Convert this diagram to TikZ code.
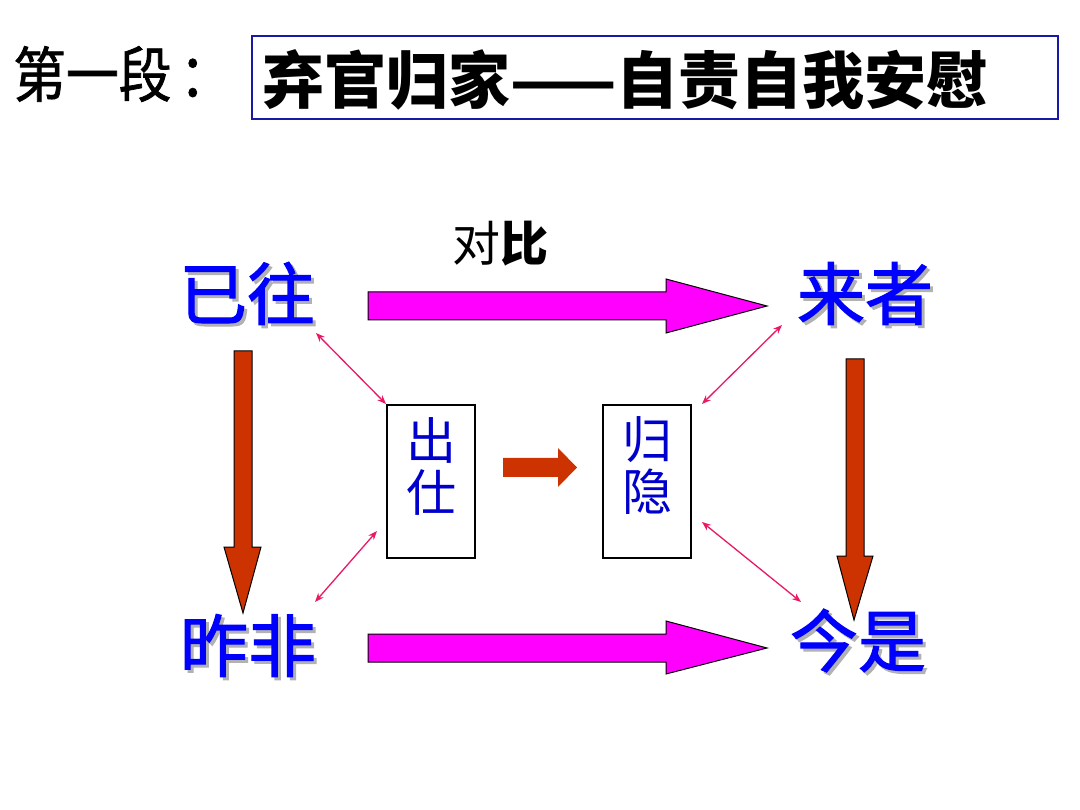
\documentclass[tikz,border=0pt]{standalone}
\usepackage{fontspec}
\newfontfamily\cjk{Noto Sans CJK SC}
\newfontfamily\cjkn[FakeStretch=0.88,FakeBold=1.2]{Noto Sans CJK SC}
\newfontfamily\cjkw{Noto Sans CJK SC}
\newfontfamily\cjkl[FakeBold=1.6]{Noto Sans CJK SC}
\usetikzlibrary{arrows.meta}
\definecolor{pinkline}{RGB}{233,25,100}
\definecolor{arrowbrown}{RGB}{204,51,0}
\definecolor{mag}{RGB}{255,0,255}
\definecolor{labelblue}{RGB}{0,0,255}
\definecolor{boxblue}{RGB}{0,0,204}
\definecolor{titleblue}{RGB}{25,25,165}
\newcommand\shadowed[1]{\makebox[0pt][l]{\hspace{3pt}\raisebox{-3pt}{\color{black!30}#1}}#1}
\tikzset{
  biglabel/.style={font=\cjkl\fontsize{68}{68}\selectfont, text=labelblue, inner sep=0pt},
  pinkarrow/.style={draw=pinkline, line width=1.3pt, {Stealth[length=9pt,width=7pt]}-{Stealth[length=9pt,width=7pt]}},
  magarrow/.style={draw=black, line width=1pt, fill=mag, line join=miter},
  brownarrow/.style={draw=black, line width=1pt, fill=arrowbrown, line join=miter},
  smallarrow/.style={fill=arrowbrown, draw=none},
  stagebox/.style={draw=black, line width=1.5pt, minimum width=88pt, minimum height=153pt, inner sep=0pt},
  stagetext/.style={font=\cjk\fontsize{50}{52}\selectfont, text=boxblue, align=center, inner sep=0pt},
}
\begin{document}
\begin{tikzpicture}[x=1pt,y=-1pt]
\useasboundingbox[fill=white] (0,0) rectangle (1080,810);

% title
\node[font=\cjkn\fontsize{60}{60}\selectfont, anchor=west, inner sep=0pt] (lead) at (13,74) {第一段\hspace{8pt}：};
\node[draw=titleblue, line width=2pt, minimum width=806pt, minimum height=83pt, inner sep=0pt] (titlebox) at (655,77.5) {};
\node[font=\cjkw\bfseries\fontsize{62}{62}\selectfont, anchor=west, inner sep=0pt] (titletext) at (262,80) {弃官归家——自责自我安慰};

% contrast label
\node[font=\cjk\fontsize{48}{48}\selectfont, inner sep=0pt] (duibi) at (500,244) {对\textbf{比}};

% big labels with shadows
\node[biglabel] (yiwang) at (247,295) {\shadowed{已往}};
\node[biglabel] (laizhe) at (865,295) {\shadowed{来者}};
\node[biglabel] (zuofei) at (248,647) {\shadowed{昨非}};
\node[biglabel] (jinshi) at (858,642) {\shadowed{今是}};

% middle boxes
\node[stagebox] (chushi) at (431,481.5) {};
\node[stagetext] (chushitext) at (431,466) {出\\仕};
\node[stagebox] (guiyin) at (647,481.5) {};
\node[stagetext] (guiyintext) at (647,466) {归\\隐};

% magenta arrows
\draw[magarrow] (368,292) -- (666,292) -- (666,279) -- (767,306) -- (666,333) -- (666,320) -- (368,320) -- cycle;
\draw[magarrow] (368,634) -- (666,634) -- (666,621) -- (767,648) -- (666,674) -- (666,662) -- (368,662) -- cycle;

% brown arrows
\draw[brownarrow] (234,351) -- (252,351) -- (252,547) -- (261,547) -- (243,613) -- (224,547) -- (234,547) -- cycle;
\draw[brownarrow] (846,359) -- (864,359) -- (864,556) -- (873,556) -- (854,620) -- (837,556) -- (846,556) -- cycle;

% small arrow between boxes
\fill[smallarrow] (503,458) -- (558,458) -- (558,448) -- (577,467.5) -- (558,487) -- (558,477) -- (503,477) -- cycle;

% pink double arrows
\coordinate (p1a) at (316,333);
\coordinate (p1b) at (386,404);
\coordinate (p2a) at (782,325);
\coordinate (p2b) at (702,404);
\coordinate (p3a) at (377,531);
\coordinate (p3b) at (315,602);
\coordinate (p4a) at (702,522);
\coordinate (p4b) at (801,602);
\draw[pinkarrow] (p1a) -- (p1b);
\draw[pinkarrow] (p2a) -- (p2b);
\draw[pinkarrow] (p3a) -- (p3b);
\draw[pinkarrow] (p4a) -- (p4b);
\end{tikzpicture}
\end{document}
